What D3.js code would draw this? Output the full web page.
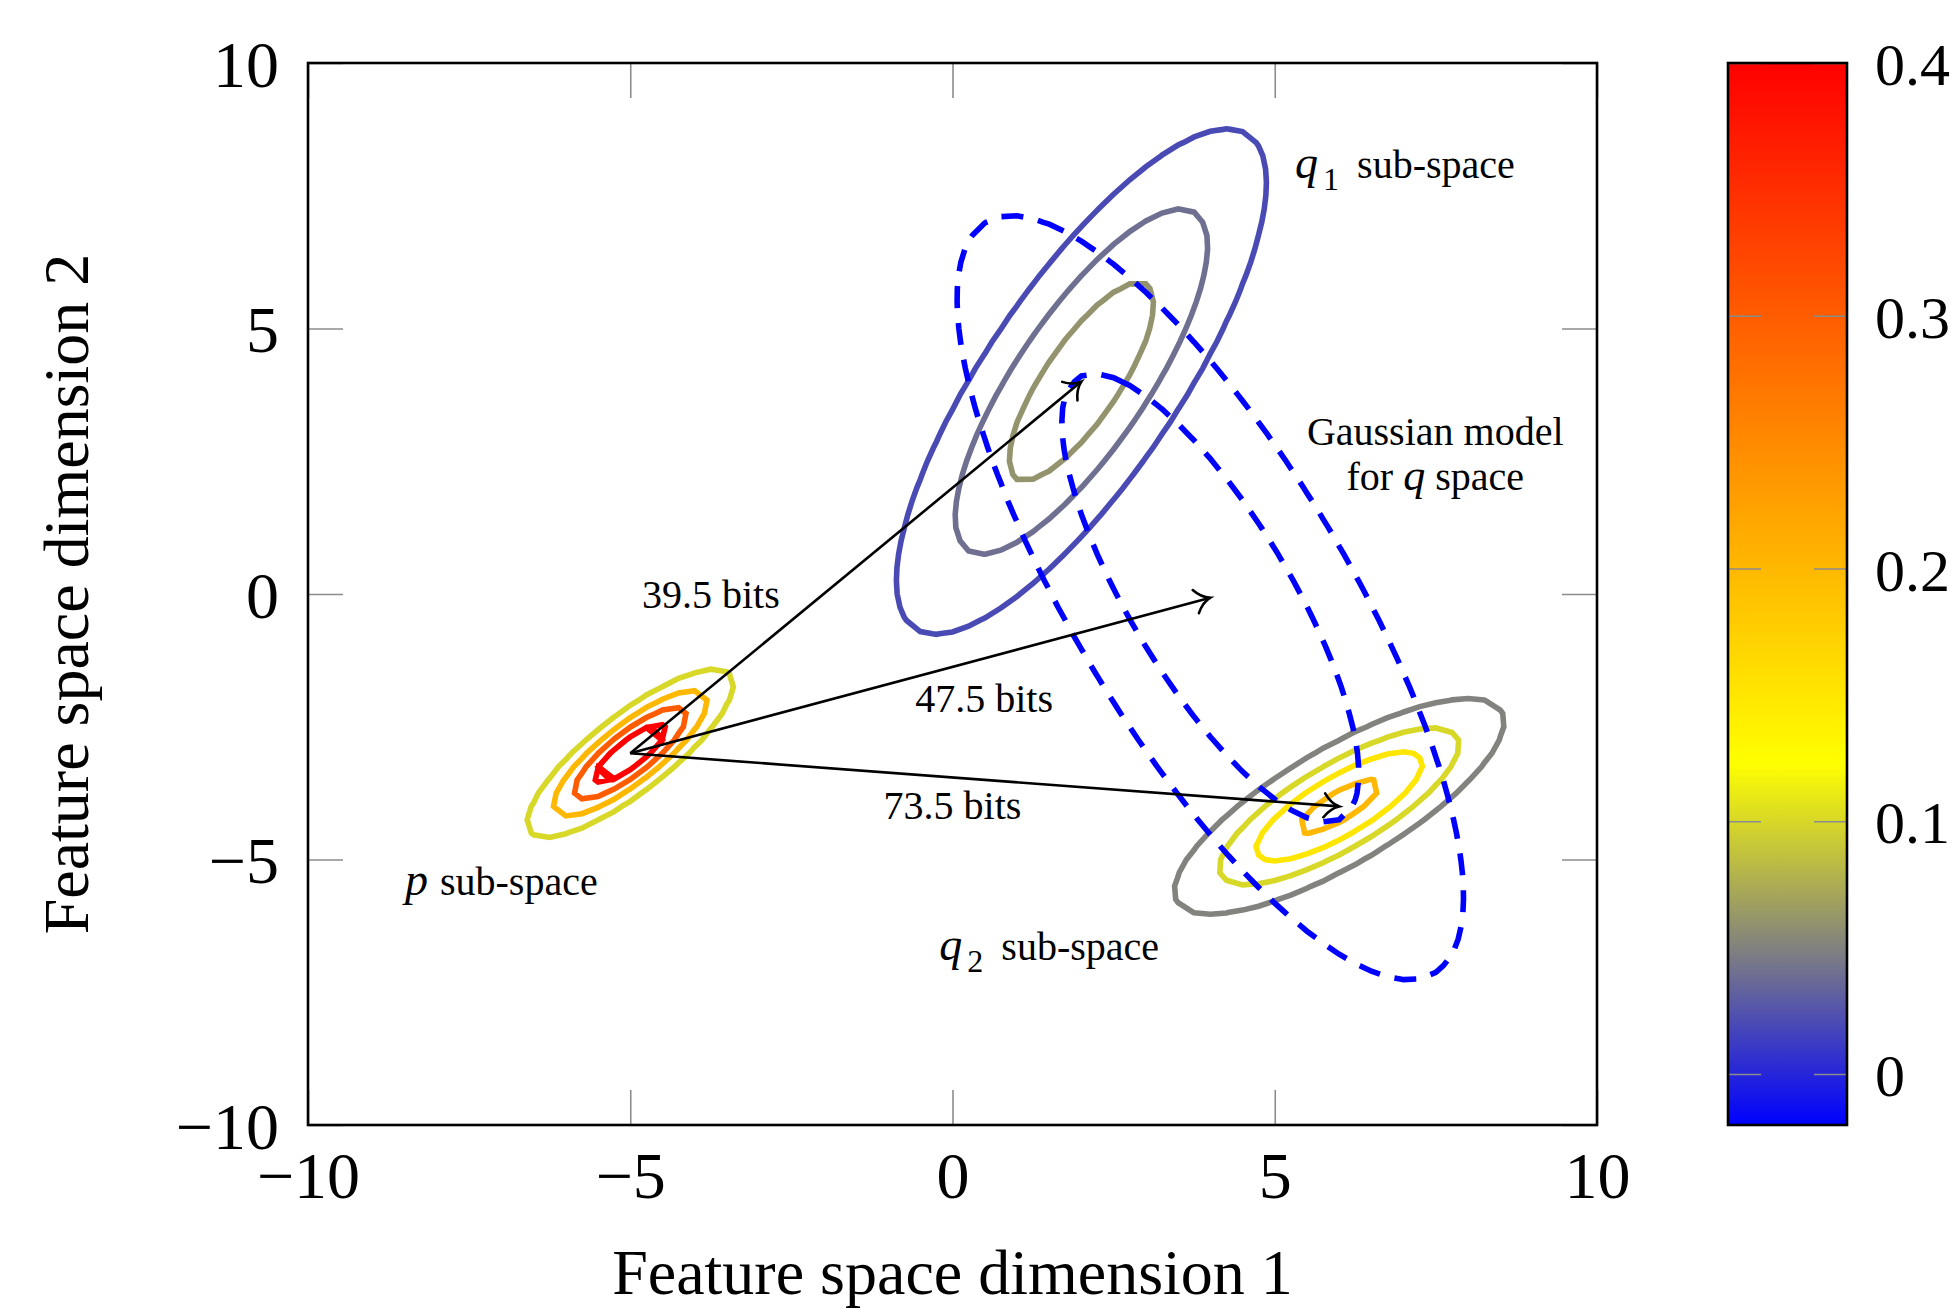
<!DOCTYPE html>
<meta charset="utf-8">
<style>
body { margin: 0; background: #fff; }
text { font-family: "Liberation Serif", "Times New Roman", serif; fill: #000; }
</style>
<body>
<script src="https://d3js.org/d3.v7.min.js"></script>
<script>

// ticks
const xTicks = [-10, -5, 0, 5, 10];
const yTicks = [-10, -5, 0, 5, 10];
const barTicks = [0, 0.1, 0.2, 0.3, 0.4];

// colormap (value -> colour)
const cmapStops = [-0.0202, 0.049, 0.123, 0.4];
const cmapColors = ["#0000ff", "#808080", "#ffff00", "#ff0000"];

// gaussian sub-spaces: mean, covariance, peak value, contour levels
const pMean = [-5, -3];
const pCov = [[0.805, 0.661], [0.661, 0.79]];
const pPeak = 0.49;
const pLevels = [0.1, 0.2, 0.3, 0.4];

const q1Mean = [2, 4];
const q1Cov = [[3.166, 4.149], [4.149, 8.705]];
const q1Peak = 0.0735;
const q1Levels = [0.02, 0.04, 0.06];

const q2Mean = [6, -4];
const q2Cov = [[2.211, 1.384], [1.384, 1.391]];
const q2Peak = 0.22;
const q2Levels = [0.05, 0.1, 0.15, 0.2];

// single gaussian model for q (dashed)
const modelMean = [4, -0.07];
const modelCov = [[7.3, -10.49], [-10.49, 24.48]];
const modelPeak = 0.0288;
const modelLevels = [0.01, 0.02];

// arrows from p
const arrowTargets = [[2, 4], [4, -0.07], [6, -4]];
const arrowLabels = ["39.5 bits", "47.5 bits", "73.5 bits"];
const arrowLabelPos = [[-3.75, -0.26], [0.49, -2.23], [0.0, -4.245]];

// sub-space names
const subNames = ["p", "q", "q"];
const subIndex = ["", "1", "2"];
const subPos = [[-7.0, -5.66], [7.02, 7.84], [1.5, -6.885]];

const modelText = ["Gaussian model", "for q space"];
const modelTextPos = [[7.49, 2.8], [7.49, 1.95]];

const plotL = 308, plotR = 1597, plotT = 63, plotB = 1125;
const barL = 1728, barR = 1847;

var svg = d3.select("body").append("svg")
    .attr("width", 1951)
    .attr("height", 1309)
    .style("background", "#fff");

var x = d3.scaleLinear().domain([-10, 10]).range([plotL, plotR]);
var y = d3.scaleLinear().domain([-10, 10]).range([plotB, plotT]);
var color = d3.scaleLinear().domain(cmapStops).range(cmapColors).interpolate(d3.interpolateRgb);
var bar = d3.scaleLinear().domain([cmapStops[0], cmapStops[cmapStops.length - 1]]).range([plotB, plotT]);

// sampling grid for the contours
const n = 81, g0 = -10, step = 0.25;

function field(mean, cov, peak) {
  var det = cov[0][0] * cov[1][1] - cov[0][1] * cov[1][0];
  var a = cov[1][1] / det, b = -cov[0][1] / det, c = cov[0][0] / det;
  var vals = new Array(n * n);
  for (var j = 0; j < n; j++) {
    for (var i = 0; i < n; i++) {
      var dx = g0 + i * step - mean[0], dy = g0 + j * step - mean[1];
      vals[j * n + i] = peak * Math.exp(-0.5 * (a * dx * dx + 2 * b * dx * dy + c * dy * dy));
    }
  }
  return vals;
}

var gridToPlot = d3.geoTransform({
  point: function(px, py) {
    this.stream.point(x(g0 + (px - 0.5) * step), y(g0 + (py - 0.5) * step));
  }
});
var path = d3.geoPath(gridToPlot);

function drawContours(mean, cov, peak, levels, dashed) {
  var cs = d3.contours().size([n, n]).thresholds(levels)(field(mean, cov, peak));
  svg.append("g").selectAll("path")
    .data(cs)
    .enter().append("path")
      .attr("d", path)
      .attr("fill", "none")
      .attr("stroke", function(d) { return dashed ? "#0000ff" : color(d.value); })
      .attr("stroke-width", 5.6)
      .attr("stroke-dasharray", dashed ? "22,15" : null);
}

drawContours(q1Mean, q1Cov, q1Peak, q1Levels, false);
drawContours(q2Mean, q2Cov, q2Peak, q2Levels, false);
drawContours(pMean, pCov, pPeak, pLevels, false);
drawContours(modelMean, modelCov, modelPeak, modelLevels, true);

// axes
function styleTicks(g) {
  g.select(".domain").remove();
  g.selectAll(".tick line").attr("stroke", "#8c8c8c").attr("stroke-width", 1.6);
  g.attr("font-family", null).attr("font-size", 66);
}

svg.append("g")
    .attr("transform", "translate(0," + plotB + ")")
    .call(d3.axisBottom(x).tickValues(xTicks).tickSize(-35).tickFormat(d3.format("d")))
    .call(styleTicks)
    .call(function(g) { g.selectAll("text").attr("y", 73).attr("dy", null); });

svg.append("g")
    .attr("transform", "translate(0," + plotT + ")")
    .call(d3.axisTop(x).tickValues(xTicks).tickSize(-35).tickFormat(""))
    .call(styleTicks);

svg.append("g")
    .attr("transform", "translate(" + plotL + ",0)")
    .call(d3.axisLeft(y).tickValues(yTicks).tickSize(-35).tickFormat(d3.format("d")))
    .call(styleTicks)
    .call(function(g) { g.selectAll("text").attr("x", -29).attr("dy", "0.35em"); });

svg.append("g")
    .attr("transform", "translate(" + plotR + ",0)")
    .call(d3.axisRight(y).tickValues(yTicks).tickSize(-35).tickFormat(""))
    .call(styleTicks);

svg.append("rect")
    .attr("x", plotL).attr("y", plotT)
    .attr("width", plotR - plotL).attr("height", plotB - plotT)
    .attr("fill", "none").attr("stroke", "#000").attr("stroke-width", 2.6);

// arrows
var defs = svg.append("defs");
defs.append("marker")
    .attr("id", "tip")
    .attr("markerUnits", "userSpaceOnUse")
    .attr("orient", "auto")
    .attr("viewBox", "-20 -16 24 32")
    .attr("markerWidth", 24).attr("markerHeight", 32)
    .attr("refX", 0).attr("refY", 0)
    .style("overflow", "visible")
  .append("path")
    .attr("d", "M-15,-12 C-11,-6 -5,-1.5 0,0 C-5,1.5 -11,6 -15,12")
    .attr("fill", "none").attr("stroke", "#000").attr("stroke-width", 2.6)
    .attr("stroke-linecap", "round");

svg.append("g").selectAll("line")
    .data(arrowTargets)
    .enter().append("line")
      .attr("x1", x(pMean[0])).attr("y1", y(pMean[1]))
      .attr("x2", function(d) { return x(d[0]); })
      .attr("y2", function(d) { return y(d[1]); })
      .attr("stroke", "#000").attr("stroke-width", 2.6)
      .attr("marker-end", "url(#tip)");

svg.append("g").selectAll("text")
    .data(arrowLabels)
    .enter().append("text")
      .attr("x", function(d, i) { return x(arrowLabelPos[i][0]); })
      .attr("y", function(d, i) { return y(arrowLabelPos[i][1]); })
      .attr("text-anchor", "middle")
      .attr("font-size", 40)
      .text(function(d) { return d; });

// sub-space labels
subNames.forEach(function(name, i) {
  var t = svg.append("text")
      .attr("x", x(subPos[i][0]))
      .attr("y", y(subPos[i][1]))
      .attr("text-anchor", "middle")
      .attr("font-size", 40);
  t.append("tspan").attr("font-style", "italic").attr("font-size", 46).text(name);
  if (subIndex[i]) {
    t.append("tspan").attr("font-size", 32).attr("dy", 12).attr("dx", 5).text(subIndex[i]);
    t.append("tspan").attr("dy", -12).attr("dx", 18).text("sub-space");
  } else {
    t.append("tspan").attr("dx", 12).text("sub-space");
  }
});

// model label
svg.append("text")
    .attr("x", x(modelTextPos[0][0])).attr("y", y(modelTextPos[0][1]))
    .attr("text-anchor", "middle").attr("font-size", 40)
    .text(modelText[0]);
var m1 = svg.append("text")
    .attr("x", x(modelTextPos[1][0])).attr("y", y(modelTextPos[1][1]))
    .attr("text-anchor", "middle").attr("font-size", 40);
modelText[1].split(" ").forEach(function(w, i) {
  m1.append("tspan")
    .attr("font-style", w === "q" ? "italic" : null)
    .attr("font-size", w === "q" ? 44 : null)
    .attr("dx", i > 0 ? 10 : null)
    .text(w);
});

// axis titles
svg.append("text")
    .attr("x", (plotL + plotR) / 2).attr("y", 1294)
    .attr("text-anchor", "middle").attr("font-size", 64)
    .text("Feature space dimension 1");

svg.append("text")
    .attr("transform", "translate(88," + (plotT + plotB) / 2 + ") rotate(-90)")
    .attr("text-anchor", "middle").attr("font-size", 64)
    .text("Feature space dimension 2");

// colorbar
var grad = defs.append("linearGradient")
    .attr("id", "cmap")
    .attr("x1", 0).attr("y1", 1).attr("x2", 0).attr("y2", 0);
grad.selectAll("stop")
    .data(cmapStops)
    .enter().append("stop")
      .attr("offset", function(d) { return (d - cmapStops[0]) / (cmapStops[cmapStops.length - 1] - cmapStops[0]); })
      .attr("stop-color", function(d, i) { return cmapColors[i]; });

svg.append("rect")
    .attr("x", barL).attr("y", plotT)
    .attr("width", barR - barL).attr("height", plotB - plotT)
    .attr("fill", "url(#cmap)");

svg.append("g")
    .attr("transform", "translate(" + barL + ",0)")
    .call(d3.axisLeft(bar).tickValues(barTicks).tickSize(-33).tickFormat(""))
    .call(styleTicks);

svg.append("g")
    .attr("transform", "translate(" + barR + ",0)")
    .call(d3.axisRight(bar).tickValues(barTicks).tickSize(-33).tickFormat(d3.format(".1~f")))
    .call(styleTicks)
    .call(function(g) {
      g.attr("font-size", 60);
      g.selectAll("text").attr("x", 28).attr("dy", "0.36em");
    });

svg.append("rect")
    .attr("x", barL).attr("y", plotT)
    .attr("width", barR - barL).attr("height", plotB - plotT)
    .attr("fill", "none").attr("stroke", "#000").attr("stroke-width", 2.6);

</script>
</body>
